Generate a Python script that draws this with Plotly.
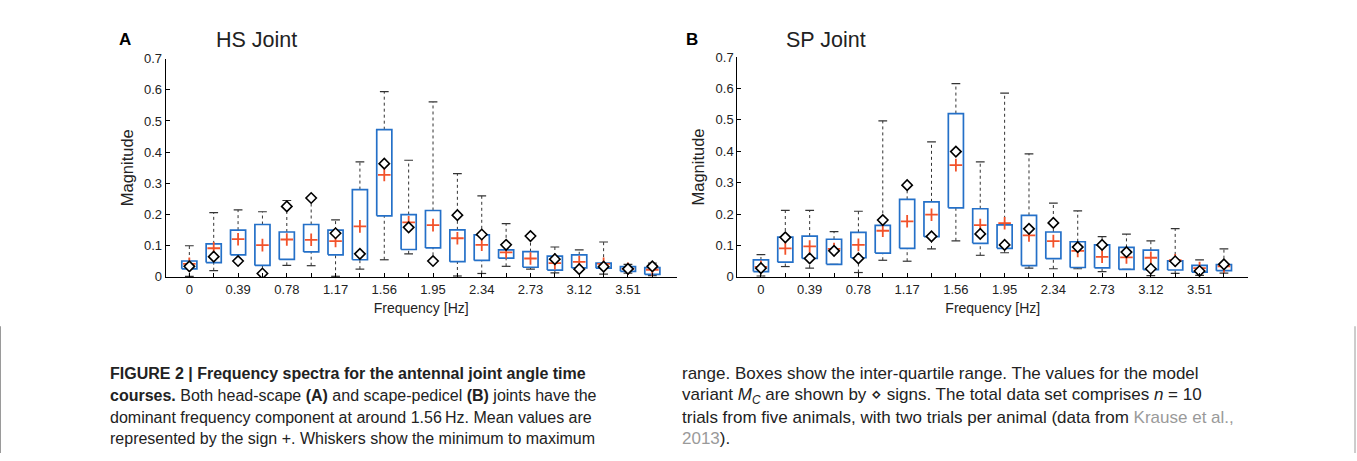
import plotly.graph_objects as go

# ---------------- data ----------------
freq_labels = ["0", "0.39", "0.78", "1.17", "1.56", "1.95", "2.34", "2.73", "3.12", "3.51"]
n_bins = 20
bins = list(range(n_bins))

hs_max = [0.100, 0.206, 0.215, 0.209, 0.245, 0.252, 0.183, 0.369, 0.594, 0.374,
          0.561, 0.331, 0.260, 0.171, 0.130, 0.096, 0.087, 0.112, 0.040, 0.044]
hs_q3 = [0.051, 0.106, 0.150, 0.168, 0.144, 0.168, 0.150, 0.280, 0.472, 0.200,
         0.213, 0.151, 0.135, 0.087, 0.081, 0.067, 0.071, 0.044, 0.033, 0.030]
hs_q1 = [0.026, 0.046, 0.071, 0.037, 0.056, 0.080, 0.071, 0.055, 0.196, 0.088,
         0.093, 0.049, 0.053, 0.060, 0.031, 0.022, 0.029, 0.028, 0.018, 0.008]
hs_min = [0.002, 0.020, 0.052, 0.010, 0.037, 0.036, 0.002, 0.025, 0.055, 0.074,
          0.050, 0.003, 0.011, 0.034, 0.025, 0.013, 0.024, 0.009, 0.012, 0.004]
hs_mean = [0.042, 0.092, 0.121, 0.102, 0.120, 0.119, 0.115, 0.162, 0.327, 0.175,
           0.166, 0.124, 0.103, 0.079, 0.059, 0.044, 0.048, 0.042, 0.026, 0.023]
hs_model = [0.034, 0.065, 0.051, 0.011, 0.226, 0.253, 0.140, 0.074, 0.363, 0.159,
            0.051, 0.198, 0.136, 0.103, 0.131, 0.057, 0.025, 0.033, 0.026, 0.034]

sp_max = [0.071, 0.212, 0.212, 0.144, 0.209, 0.497, 0.293, 0.430, 0.615, 0.366,
          0.585, 0.392, 0.235, 0.210, 0.128, 0.136, 0.115, 0.154, 0.054, 0.089]
sp_q3 = [0.054, 0.127, 0.130, 0.120, 0.142, 0.164, 0.247, 0.239, 0.520, 0.217,
         0.166, 0.196, 0.143, 0.112, 0.102, 0.094, 0.085, 0.051, 0.037, 0.039]
sp_q1 = [0.017, 0.047, 0.059, 0.040, 0.061, 0.076, 0.091, 0.128, 0.220, 0.107,
         0.091, 0.036, 0.058, 0.030, 0.029, 0.024, 0.023, 0.022, 0.015, 0.020]
sp_min = [0.003, 0.033, 0.028, 0.040, 0.014, 0.053, 0.050, 0.089, 0.115, 0.069,
          0.077, 0.028, 0.026, 0.026, 0.017, 0.024, 0.004, 0.011, 0.005, 0.012]
sp_mean = [0.032, 0.091, 0.097, 0.089, 0.102, 0.147, 0.177, 0.198, 0.356, 0.165,
           0.171, 0.132, 0.114, 0.083, 0.064, 0.062, 0.061, 0.053, 0.028, 0.034]
sp_model = [0.028, 0.126, 0.059, 0.083, 0.059, 0.181, 0.292, 0.129, 0.399, 0.137,
            0.102, 0.153, 0.172, 0.095, 0.102, 0.079, 0.026, 0.050, 0.019, 0.040]

# ---------------- styles ----------------
BOX_COLOR = "#2470c8"
WHISK_COLOR = "#333333"
MEAN_COLOR = "#f2522a"
TEXT_COLOR = "#222222"
FONT = "Liberation Sans, Arial, sans-serif"
BOX_HALF = 0.31
CAP_HALF = 0.18

fig = go.Figure()


def add_panel(xa, ya, vmin, q1, q3, vmax, mean, model):
    # dashed whiskers
    wx, wy = [], []
    for i in bins:
        if vmax[i] > q3[i]:
            wx += [i, i, None]
            wy += [q3[i], vmax[i], None]
        if vmin[i] < q1[i]:
            wx += [i, i, None]
            wy += [vmin[i], q1[i], None]
    fig.add_trace(go.Scatter(x=wx, y=wy, mode="lines", xaxis=xa, yaxis=ya,
                             line=dict(color=WHISK_COLOR, width=1, dash="3px,3px"),
                             hoverinfo="skip", showlegend=False))
    # caps
    cx, cy = [], []
    for i in bins:
        for v in (vmax[i], vmin[i]):
            cx += [i - CAP_HALF, i + CAP_HALF, None]
            cy += [v, v, None]
    fig.add_trace(go.Scatter(x=cx, y=cy, mode="lines", xaxis=xa, yaxis=ya,
                             line=dict(color=WHISK_COLOR, width=1.2),
                             hoverinfo="skip", showlegend=False))
    # boxes (inter-quartile range)
    bx, by = [], []
    for i in bins:
        bx += [i - BOX_HALF, i + BOX_HALF, i + BOX_HALF, i - BOX_HALF, i - BOX_HALF, None]
        by += [q1[i], q1[i], q3[i], q3[i], q1[i], None]
    fig.add_trace(go.Scatter(x=bx, y=by, mode="lines", xaxis=xa, yaxis=ya,
                             line=dict(color=BOX_COLOR, width=1.7),
                             hoverinfo="skip", showlegend=False))
    # mean (+)
    fig.add_trace(go.Scatter(x=bins, y=mean, mode="markers", xaxis=xa, yaxis=ya,
                             marker=dict(symbol="cross-thin", size=9,
                                         line=dict(color=MEAN_COLOR, width=1.8)),
                             showlegend=False, name="mean"))
    # model values (diamond)
    fig.add_trace(go.Scatter(x=bins, y=model, mode="markers", xaxis=xa, yaxis=ya,
                             marker=dict(symbol="diamond", size=8, color="white",
                                         line=dict(color="black", width=1.6)),
                             showlegend=False, name="model"))


add_panel("x", "y", hs_min, hs_q1, hs_q3, hs_max, hs_mean, hs_model)
add_panel("x2", "y2", sp_min, sp_q1, sp_q3, sp_max, sp_mean, sp_model)

W, H = 1357, 461


def px_x(p):
    return p / W


def px_y(p):
    return 1 - p / H


tickvals = bins
ticktext = [freq_labels[i // 2] if i % 2 == 0 else "" for i in bins]

xaxis_common = dict(range=[-0.97, 20.0], tickvals=tickvals, ticktext=ticktext,
                    ticks="inside", ticklen=4, tickcolor="black", tickwidth=1,
                    showline=True, linecolor="black", linewidth=1,
                    showgrid=False, zeroline=False,
                    tickfont=dict(family=FONT, size=13, color=TEXT_COLOR),
                    title=dict(text="Frequency [Hz]", standoff=7,
                               font=dict(family=FONT, size=14, color=TEXT_COLOR)))
yaxis_common = dict(range=[0, 0.7], tickvals=[0, 0.1, 0.2, 0.3, 0.4, 0.5, 0.6, 0.7],
                    ticktext=["0", "0.1", "0.2", "0.3", "0.4", "0.5", "0.6", "0.7"],
                    ticks="inside", ticklen=4, tickcolor="black", tickwidth=1,
                    showline=True, linecolor="black", linewidth=1,
                    showgrid=False, zeroline=False,
                    tickfont=dict(family=FONT, size=13, color=TEXT_COLOR),
                    title=dict(text="Magnitude", standoff=6,
                               font=dict(family=FONT, size=16.5, color=TEXT_COLOR)))

fig.update_layout(
    width=W, height=H,
    margin=dict(l=0, r=0, t=0, b=0),
    paper_bgcolor="white", plot_bgcolor="white",
    xaxis=dict(domain=[px_x(165.7), px_x(676.7)], anchor="y", **xaxis_common),
    yaxis=dict(domain=[px_y(279), px_y(53.3)], anchor="x", **yaxis_common),
    xaxis2=dict(domain=[px_x(737.3), px_x(1248.3)], anchor="y2", **xaxis_common),
    yaxis2=dict(domain=[px_y(279), px_y(51.7)], anchor="x2", **yaxis_common),
)

# thin page-frame edges beside the caption
fig.add_shape(type="line", xref="paper", yref="paper", x0=px_x(0.5), x1=px_x(0.5),
              y0=px_y(330), y1=0, line=dict(color="#9a9a9a", width=1))
fig.add_shape(type="line", xref="paper", yref="paper", x0=px_x(1355), x1=px_x(1355),
              y0=px_y(330), y1=0, line=dict(color="#9a9a9a", width=1))

annots = []
# panel letters and titles
annots.append(dict(x=px_x(125), y=px_y(34), text="<b>A</b>", font=dict(family=FONT, size=17, color="black")))
annots.append(dict(x=px_x(256), y=px_y(34), text="HS Joint", font=dict(family=FONT, size=21.5, color=TEXT_COLOR)))
annots.append(dict(x=px_x(692), y=px_y(34), text="<b>B</b>", font=dict(family=FONT, size=17, color="black")))
annots.append(dict(x=px_x(826), y=px_y(34), text="SP Joint", font=dict(family=FONT, size=21.5, color=TEXT_COLOR)))
for a in annots:
    a.update(xref="paper", yref="paper", showarrow=False, xanchor="center", yanchor="middle")

LEFT_FONT = dict(family=FONT, size=16, color=TEXT_COLOR)
RIGHT_FONT = dict(family=FONT, size=17, color=TEXT_COLOR)
GREY = "<span style='color:#9a9a9a'>"
left_lines = [
    "<b>FIGURE 2 | Frequency spectra for the antennal joint angle time</b>",
    "<b>courses.</b> Both head-scape <b>(A)</b> and scape-pedicel <b>(B)</b> joints have the",
    "dominant frequency component at around 1.56\u2009Hz. Mean values are",
    "represented by the sign +. Whiskers show the minimum to maximum",
]
right_lines = [
    "range. Boxes show the inter-quartile range. The values for the model",
    "variant <i>M<sub>C</sub></i> are shown by \u22c4 signs. The total data set comprises <i>n</i> = 10",
    "trials from five animals, with two trials per animal (data from " + GREY + "Krause et al.,</span>",
    GREY + "2013</span>).",
]
line_y = [379, 402, 424, 446]
for t, yy in zip(left_lines, line_y):
    annots.append(dict(x=px_x(108), y=px_y(yy), text=t, xref="paper", yref="paper",
                       showarrow=False, xanchor="left", yanchor="middle", font=LEFT_FONT))
for t, yy in zip(right_lines, line_y):
    annots.append(dict(x=px_x(680), y=px_y(yy), text=t, xref="paper", yref="paper",
                       showarrow=False, xanchor="left", yanchor="middle", font=RIGHT_FONT))

fig.update_layout(annotations=annots)

fig.write_html("out.html")
